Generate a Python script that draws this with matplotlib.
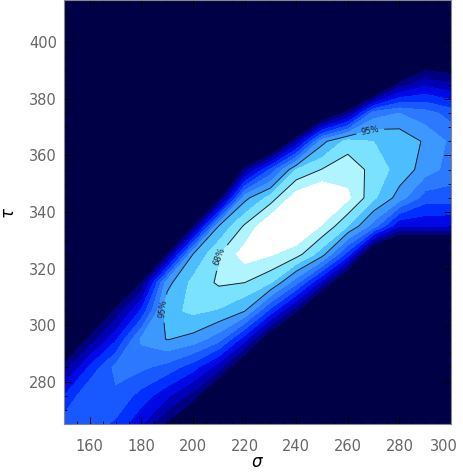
import matplotlib
matplotlib.use('Agg')
import matplotlib.pyplot as plt
from matplotlib.ticker import MultipleLocator
from matplotlib.transforms import ScaledTranslation

# grid of sigma (columns) and tau (rows)
sigma = [150, 160, 170, 180, 190, 200, 210, 220, 230, 240, 250, 260, 270, 280, 290, 300]
tau = [265, 275, 285, 295, 305, 315, 325, 335, 345, 355, 365, 375, 385, 395, 405, 415]

# density level (1 = outer edge, 11 = white core)
level = [
    [5.5, 5.5, 4.8, 3.1, 0.8, -1.5, -4, -7, -8, -8, -8, -8, -8, -8, -8, -8],
    [4.0, 6.0, 5.8, 4.6, 3.2, 1.6, -1.5, -4.5, -8, -8, -8, -8, -8, -8, -8, -8],
    [1.4, 4.2, 6.3, 6.2, 5.6, 4.4, 2.4, -1.0, -5, -8, -8, -8, -8, -8, -8, -8],
    [-1.5, 1.3, 3.8, 7.2, 8.0, 7.6, 6.4, 3.4, -0.5, -5, -8, -8, -8, -8, -8, -8],
    [-5, -1.5, 1.2, 4.2, 8.7, 9.2, 8.9, 8.0, 4.6, 1.2, -3.5, -7, -8, -8, -8, -8],
    [-8, -4, -1.5, 1.0, 7.6, 9.3, 10.1, 9.95, 9.1, 6.3, 2.6, -2, -6, -8, -8, -8],
    [-8, -7, -4, -1.8, 1.0, 8.0, 9.9, 11.5, 11.1, 10.4, 8.4, 4.5, -2, -4, -4, -4],
    [-8, -8, -7, -4.5, -3.5, 0.8, 8.0, 10.1, 12.0, 12.2, 10.9, 9.0, 6.5, 3.0, 3.1, 3.0],
    [-8, -8, -8, -7, -6, -4, 0.3, 7.6, 9.4, 11.6, 12.3, 11.2, 9.2, 7.5, 5.5, 5.5],
    [-8, -8, -8, -8, -8, -7, -5, 1.4, 5.2, 9.0, 10.0, 10.6, 9.6, 8.6, 7.5, 6.6],
    [-8, -8, -8, -8, -8, -8, -8, -4, -3, 2.0, 7.6, 9.4, 9.0, 8.7, 7.8, 6.8],
    [-8, -8, -8, -8, -8, -8, -8, -8, -7, -5, -1.5, 1.5, 6.5, 7.0, 6.4, 5.6],
    [-8, -8, -8, -8, -8, -8, -8, -8, -8, -8, -7, -5, -3, 1.5, 2.8, 2.2],
    [-8, -8, -8, -8, -8, -8, -8, -8, -8, -8, -8, -8, -8, -4, -0.8, -0.8],
    [-8, -8, -8, -8, -8, -8, -8, -8, -8, -8, -8, -8, -8, -8, -6, -6],
    [-8, -8, -8, -8, -8, -8, -8, -8, -8, -8, -8, -8, -8, -8, -8, -8],
]

band_edges = [-20, 1, 2, 3, 4, 5, 6, 7, 8, 9, 10, 11, 20]
band_colors = ['#000046', '#000080', '#0000b4', '#0008e6', '#0030ff', '#1858ff',
               '#2c78ff', '#3c98ff', '#4cbeff', '#7ae2ff', '#b0f4ff', '#ffffff']
conf_levels = [7.95, 9.95]
conf_names = {7.95: '95%', 9.95: '68%'}
xticks = [160, 180, 200, 220, 240, 260, 280, 300]
yticks = [280, 300, 320, 340, 360, 380, 400]

fig = plt.figure(figsize=(4.63, 4.73), dpi=100)
ax = fig.add_axes([64/463, 49/473, 387/463, 424/473])

ax.contourf(sigma, tau, level, levels=band_edges, colors=band_colors)
cs = ax.contour(sigma, tau, level, levels=conf_levels, colors='#222222', linewidths=0.7)
ax.clabel(cs, fmt=conf_names, fontsize=6, inline=True,
          manual=[(268, 371), (188, 306), (212, 324)])

ax.set_xlim(150, 300)
ax.set_ylim(265, 415)
ax.set_xticks(xticks)
ax.set_yticks(yticks)
ax.xaxis.set_minor_locator(MultipleLocator(5))
ax.yaxis.set_minor_locator(MultipleLocator(5))
ax.tick_params(which='both', direction='in', top=True, right=True, color='black')
ax.tick_params(which='major', length=5, width=0.7, labelsize=10.5, labelcolor='#666666')
ax.tick_params(which='minor', length=2.3, width=0.6)
ax.tick_params(axis='x', pad=11)
ax.tick_params(axis='y', pad=5)
for sp in ax.spines.values():
    sp.set_color('#888888')
    sp.set_linewidth(0.8)

# last x label sits a little left so it stays inside the picture
last = ax.xaxis.get_major_ticks()[-1].label1
last.set_transform(last.get_transform() + ScaledTranslation(-7/100, 0, fig.dpi_scale_trans))

fig.text(257/463, 1 - 462/473, r'$\sigma$', ha='center', va='center', fontsize=12)
fig.text(9/463, 1 - 213/473, r'$\tau$', ha='center', va='center', fontsize=12, rotation=90)

fig.savefig('out.png', dpi=100)
